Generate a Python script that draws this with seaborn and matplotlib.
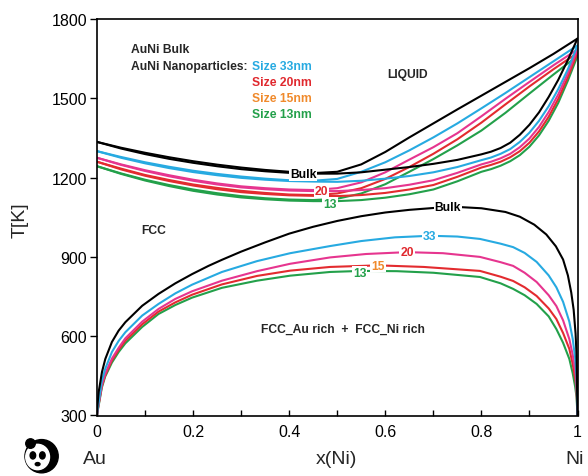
import numpy as np
import pandas as pd
import matplotlib
matplotlib.use("Agg")
import matplotlib.pyplot as plt
from matplotlib.ticker import MultipleLocator
from matplotlib.patches import Ellipse, Circle
import seaborn as sns

sns.set_theme(style="ticks")
plt.rcParams['font.family'] = ['Liberation Sans', 'DejaVu Sans']

# ---------------- data ----------------
sizes = ["Bulk", "33", "20", "15", "13"]
colors = {"Bulk": "#000000", "33": "#27aae1", "20": "#e6358f", "15": "#e32b2f", "13": "#23a04a"}
label_colors = {"Bulk": "#000000", "33": "#27aae1", "20": "#e0282e", "15": "#f08a2c", "13": "#23a04a"}

# liquidus (upper line of the melting lens)
liq_x = [0, 0.05, 0.1, 0.15, 0.2, 0.25, 0.3, 0.35, 0.4, 0.45, 0.5, 0.55, 0.6, 0.65, 0.7,
         0.75, 0.8, 0.85, 0.9, 0.95, 1.0]
liq_T = {
    "Bulk": [1335, 1313, 1294, 1277, 1262, 1249, 1238, 1229, 1222, 1217, 1222, 1250, 1297, 1352, 1405, 1458, 1510, 1562, 1614, 1668, 1726],
    "33":   [1300, 1278, 1258, 1241, 1226, 1214, 1204, 1196, 1190, 1188, 1195, 1222, 1258, 1303, 1352, 1405, 1462, 1520, 1580, 1640, 1700],
    "20":   [1275, 1250, 1228, 1209, 1192, 1178, 1167, 1160, 1155, 1153, 1160, 1182, 1220, 1268, 1315, 1368, 1432, 1498, 1562, 1625, 1685],
    "15":   [1260, 1234, 1210, 1191, 1174, 1161, 1150, 1142, 1136, 1134, 1140, 1160, 1195, 1240, 1290, 1345, 1408, 1477, 1545, 1610, 1672],
    "13":   [1243, 1216, 1192, 1172, 1155, 1141, 1130, 1122, 1117, 1115, 1120, 1140, 1175, 1222, 1270, 1322, 1378, 1445, 1518, 1590, 1660],
}
# solidus (lower line of the melting lens)
sol_x = [0, 0.05, 0.1, 0.15, 0.2, 0.25, 0.3, 0.35, 0.4, 0.45, 0.5, 0.55, 0.6, 0.65, 0.7, 0.75,
         0.8, 0.82, 0.84, 0.86, 0.88, 0.9, 0.92, 0.94, 0.96, 0.98, 1.0]
sol_T = {
    "Bulk": [1335, 1310, 1289, 1271, 1256, 1243, 1232, 1224, 1218, 1215, 1215, 1220, 1230, 1240, 1252, 1267, 1288, 1298, 1312, 1332, 1362, 1400, 1447, 1505, 1570, 1645, 1726],
    "33":   [1300, 1275, 1254, 1236, 1221, 1209, 1199, 1192, 1187, 1185, 1184, 1188, 1196, 1206, 1220, 1240, 1266, 1276, 1290, 1308, 1335, 1370, 1415, 1470, 1535, 1610, 1700],
    "20":   [1275, 1248, 1225, 1205, 1188, 1174, 1163, 1156, 1151, 1149, 1149, 1153, 1160, 1173, 1190, 1218, 1250, 1260, 1273, 1290, 1315, 1348, 1392, 1448, 1515, 1595, 1685],
    "15":   [1260, 1231, 1207, 1187, 1170, 1156, 1145, 1138, 1133, 1131, 1130, 1134, 1142, 1155, 1172, 1203, 1238, 1248, 1260, 1277, 1300, 1332, 1375, 1430, 1498, 1580, 1672],
    "13":   [1243, 1214, 1189, 1168, 1150, 1136, 1125, 1118, 1113, 1111, 1111, 1115, 1124, 1137, 1155, 1186, 1222, 1232, 1245, 1262, 1285, 1317, 1360, 1415, 1483, 1567, 1660],
}
# miscibility gap (FCC_Au rich + FCC_Ni rich)
gap_x = {
    "Bulk": [0, 0.001, 0.0035, 0.0104, 0.0173, 0.031, 0.045, 0.059, 0.094, 0.128, 0.163, 0.198, 0.232, 0.26, 0.3, 0.35, 0.4, 0.45, 0.5, 0.55, 0.6, 0.65, 0.7, 0.75, 0.8, 0.85, 0.88, 0.91, 0.935, 0.955, 0.97, 0.98, 0.987, 0.992, 0.996, 0.998, 1.0],
    "33":   [0, 0.001, 0.0035, 0.01, 0.017, 0.031, 0.045, 0.059, 0.094, 0.128, 0.163, 0.198, 0.26, 0.333, 0.402, 0.485, 0.55, 0.62, 0.693, 0.75, 0.797, 0.84, 0.866, 0.89, 0.915, 0.94, 0.956, 0.97, 0.983, 0.99, 0.995, 0.998, 1.0],
    "20":   [0, 0.001, 0.0035, 0.01, 0.017, 0.031, 0.045, 0.059, 0.094, 0.128, 0.163, 0.198, 0.26, 0.333, 0.402, 0.485, 0.56, 0.645, 0.72, 0.797, 0.84, 0.866, 0.89, 0.915, 0.94, 0.956, 0.97, 0.983, 0.99, 0.995, 0.998, 1.0],
    "15":   [0, 0.001, 0.0035, 0.01, 0.017, 0.031, 0.045, 0.059, 0.094, 0.128, 0.163, 0.198, 0.26, 0.333, 0.402, 0.485, 0.585, 0.68, 0.797, 0.84, 0.866, 0.89, 0.915, 0.94, 0.956, 0.97, 0.983, 0.99, 0.995, 0.998, 1.0],
    "13":   [0, 0.001, 0.0035, 0.01, 0.017, 0.031, 0.045, 0.059, 0.094, 0.128, 0.163, 0.198, 0.26, 0.333, 0.402, 0.485, 0.55, 0.624, 0.7, 0.797, 0.84, 0.866, 0.89, 0.915, 0.94, 0.956, 0.97, 0.983, 0.99, 0.995, 0.998, 1.0],
}
gap_T = {
    "Bulk": [300, 340, 389, 465, 514, 578, 621, 653, 715, 760, 800, 835, 866, 889, 920, 955, 988, 1014, 1036, 1054, 1068, 1078, 1085, 1089, 1084, 1070, 1052, 1022, 985, 940, 890, 830, 765, 700, 610, 530, 300],
    "33":   [300, 320, 350, 430, 476, 540, 582, 615, 678, 722, 762, 795, 843, 884, 914, 941, 960, 974, 980, 977, 968, 950, 937, 915, 881, 830, 785, 730, 655, 590, 520, 450, 300],
    "20":   [300, 318, 345, 415, 458, 515, 556, 592, 655, 703, 741, 770, 810, 846, 874, 898, 911, 918, 914, 900, 880, 866, 840, 805, 755, 714, 660, 589, 530, 470, 420, 300],
    "15":   [300, 316, 342, 410, 452, 508, 548, 583, 645, 693, 728, 757, 796, 828, 848, 862, 868, 862, 847, 825, 809, 785, 752, 705, 665, 612, 552, 495, 440, 400, 300],
    "13":   [300, 314, 338, 405, 447, 500, 540, 573, 635, 684, 718, 746, 783, 810, 829, 843, 847, 846, 840, 824, 800, 779, 755, 722, 675, 627, 575, 514, 460, 410, 370, 300],
}

y_ticks = [300, 600, 900, 1200, 1500, 1800]
x_ticks = [0, 0.2, 0.4, 0.6, 0.8, 1.0]
x_tick_labels = ["0", "0.2", "0.4", "0.6", "0.8", "1"]

legend_sizes = ["Size 33nm", "Size 20nm", "Size 15nm", "Size 13nm"]
legend_colors = ["#27aae1", "#e0282e", "#f08a2c", "#23a04a"]

# ---------------- figure ----------------
fig = plt.figure(figsize=(5.88, 4.77), dpi=100)
ax = fig.add_axes([97 / 588, 1 - 416.5 / 477, 480.5 / 588, 396.5 / 477])

lw = 1.5
for s in sizes[::-1]:
    c = colors[s]
    sns.lineplot(x=liq_x, y=liq_T[s], color=c, lw=lw, ax=ax, sort=False, estimator=None)
    sns.lineplot(x=sol_x, y=sol_T[s], color=c, lw=lw, ax=ax, sort=False, estimator=None)
    sns.lineplot(x=gap_x[s], y=gap_T[s], color=c, lw=lw, ax=ax, sort=False, estimator=None)

ax.set_xlim(0, 1)
ax.set_ylim(300, 1800)
ax.set_yticks(y_ticks)
ax.set_xticks(x_ticks)
ax.set_xticklabels(x_tick_labels)
ax.xaxis.set_minor_locator(MultipleLocator(0.1))
ax.tick_params(axis='x', which='both', direction='in', length=4, width=1, labelsize=11.5, pad=6, colors='black')
ax.tick_params(axis='y', which='major', direction='out', length=5, width=1, labelsize=11.5, pad=2, colors='black')
for sp in ax.spines.values():
    sp.set_visible(True)
    sp.set_linewidth(1.2)
    sp.set_color('black')

ax.set_xlabel("")
ax.set_ylabel("")
fig.text(20 / 588, 1 - 220 / 477, "T[K]", rotation=90, ha='center', va='center', fontsize=14)
fig.text(336 / 588, 1 - 460 / 477, "x(Ni)", ha='center', va='center', fontsize=14)
fig.text(95 / 588, 1 - 460 / 477, "Au", ha='center', va='center', fontsize=14)
fig.text(575 / 588, 1 - 460 / 477, "Ni", ha='center', va='center', fontsize=14)

# region / legend texts
fs = 8.7
ax.text(0.071, 1687, "AuNi Bulk", fontsize=fs, fontweight='bold', va='center', ha='left')
ax.text(0.071, 1621, "AuNi Nanoparticles:", fontsize=fs, fontweight='bold', va='center', ha='left')
for i, (t, c) in enumerate(zip(legend_sizes, legend_colors)):
    ax.text(0.323, 1621 - i * 60, t, fontsize=fs, fontweight='bold', color=c, va='center', ha='left')
ax.text(0.647, 1592, "LIQUID", fontsize=fs, fontweight='bold', va='center', ha='center')
ax.text(0.117, 1002, "FCC", fontsize=fs, fontweight='bold', va='center', ha='center')
ax.text(0.512, 627, "FCC_Au rich  +  FCC_Ni rich", fontsize=fs, fontweight='bold', va='center', ha='center')

# curve labels
bb = dict(facecolor='white', edgecolor='none', pad=0.6)
def lab(x, y, t, key):
    ax.text(x, y, t, fontsize=fs, fontweight='bold', color=label_colors[key],
            ha='center', va='center', bbox=bb, zorder=5)

lab(0.429, 1214, "Bulk", "Bulk")
lab(0.468, 1150, "20", "20")
lab(0.485, 1100, "13", "13")
lab(0.73, 1089, "Bulk", "Bulk")
lab(0.693, 979, "33", "33")
lab(0.645, 918, "20", "20")
lab(0.585, 867, "15", "15")
lab(0.547, 840, "13", "13")

# small panda icon
pax = fig.add_axes([20 / 588, 0.0, 40 / 588, 38 / 477])
pax.set_xlim(-1.2, 1.2)
pax.set_ylim(-1.2, 1.2)
pax.set_aspect('equal')
pax.axis('off')
pax.add_patch(Circle((0.1, 0.05), 1.05, color='black'))
pax.add_patch(Ellipse((-0.15, 0.0), 1.5, 1.6, color='white'))
pax.add_patch(Circle((-0.6, 0.85), 0.3, color='black'))
pax.add_patch(Ellipse((-0.45, 0.1), 0.35, 0.45, color='black'))
pax.add_patch(Ellipse((0.15, 0.1), 0.35, 0.45, color='black'))
pax.add_patch(Ellipse((-0.15, -0.45), 0.3, 0.2, color='black'))

fig.savefig("out.png", dpi=100)
